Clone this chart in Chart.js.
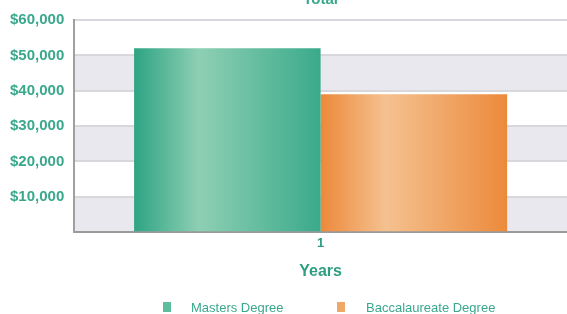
<!DOCTYPE html>
<html>
<head>
<meta charset="utf-8">
<script src="https://cdn.jsdelivr.net/npm/chart.js@4/dist/chart.umd.min.js"></script>
<style>
  html, body { margin:0; padding:0; background:#fff; }
  #wrap { position:relative; width:567px; height:314px; }
  #legend { position:absolute; left:0; top:300px; width:567px; height:14px; font:13px "Liberation Sans", Arial, sans-serif; color:#3aa88c; }
  #legend span.item { position:absolute; top:0; white-space:nowrap; }
  #legend i { position:absolute; top:2px; width:8px; height:10px; }
</style>
</head>
<body>
<div id="wrap">
  <canvas id="chart" width="567" height="314"></canvas>
  <div id="legend"></div>
</div>
<script>
// data
const categories = ['1'];
const seriesNames = ['Masters Degree', 'Baccalaureate Degree'];
const masters = [52000];
const baccalaureate = [39000];
const yTicks = [0, 10000, 20000, 30000, 40000, 50000, 60000];

const teal = '#3aa88c';
const gradStops = [
  ['#2ea483', '#8ecfb4', '#3aaa8a'],
  ['#ec893a', '#f5c190', '#ec8a3b']
];
const legendFill = ['#5dbd9c', '#f0a868'];

function money(v){ return '$' + v.toLocaleString('en-US'); }

// alternating bands behind the grid
const bands = {
  id:'bands',
  beforeDraw(chart){
    const {ctx, chartArea:a, scales:{y}} = chart;
    ctx.save();
    for(let i=0;i<yTicks.length-1;i+=2){
      const y0 = y.getPixelForValue(yTicks[i]);
      const y1 = y.getPixelForValue(yTicks[i+1]);
      ctx.fillStyle = '#e9e8ef';
      ctx.fillRect(a.left, y1, a.right-a.left, y0-y1);
    }
    ctx.restore();
  }
};

// horizontal shine on each bar
const shine = {
  id:'shine',
  beforeDatasetsDraw(chart){
    const ctx = chart.ctx;
    chart.data.datasets.forEach((ds, di)=>{
      chart.getDatasetMeta(di).data.forEach(el=>{
        const l = el.x - el.width/2, r = el.x + el.width/2;
        const g = ctx.createLinearGradient(l, 0, r, 0);
        const s = gradStops[di];
        g.addColorStop(0, s[0]);
        g.addColorStop(0.35, s[1]);
        g.addColorStop(1, s[2]);
        el.options.backgroundColor = g;
      });
    });
  }
};

// title sits half off the top edge
const topTitle = {
  id:'topTitle',
  afterDraw(chart){
    const {ctx, chartArea:a} = chart;
    ctx.save();
    ctx.font = 'bold 15px "Liberation Sans", Arial, sans-serif';
    ctx.fillStyle = teal;
    ctx.textAlign = 'center';
    ctx.textBaseline = 'middle';
    ctx.fillText('Total', (a.left+a.right)/2, 0);
    ctx.restore();
  }
};

new Chart(document.getElementById('chart'), {
  type:'bar',
  data:{
    labels: categories,
    datasets:[
      { label: seriesNames[0], data: masters, backgroundColor: gradStops[0][0], borderWidth:0 },
      { label: seriesNames[1], data: baccalaureate, backgroundColor: gradStops[1][0], borderWidth:0 }
    ]
  },
  options:{
    responsive:false,
    animation:false,
    layout:{ padding:{ top:20, right:0, bottom:33, left:0 } },
    datasets:{ bar:{ barPercentage:1, categoryPercentage:0.757 } },
    plugins:{ legend:{ display:false }, title:{ display:false }, tooltip:{ enabled:false } },
    scales:{
      x:{
        grid:{ display:false, drawTicks:false },
        border:{ color:'#9a9a9a', width:2 },
        ticks:{ padding:3, color:'#2e9e80', font:{ family:'"Liberation Sans", Arial', size:13, weight:'bold' } },
        title:{ display:true, text:'Years', color:'#2e9e80', padding:{ top:8, bottom:0 },
                font:{ family:'"Liberation Sans", Arial', size:16, weight:'bold' } }
      },
      y:{
        min:0, max:60000,
        afterBuildTicks(axis){ axis.ticks = yTicks.map(v=>({value:v})); },
        grid:{ color:'#d8d8dc', lineWidth:2, drawTicks:false },
        border:{ color:'#a0a0a0', width:2 },
        ticks:{
          padding:10, color:teal,
          font:{ family:'"Liberation Sans", Arial', size:15, weight:'bold' },
          callback:v=> v===0 ? '' : money(v)
        }
      }
    }
  },
  plugins:[bands, shine, topTitle]
});

// legend
const leg = document.getElementById('legend');
const boxX = [163, 337];
const textX = [191, 366];
seriesNames.forEach((n,i)=>{
  const b = document.createElement('i');
  b.style.left = boxX[i]+'px';
  b.style.background = legendFill[i];
  leg.appendChild(b);
  const t = document.createElement('span');
  t.className = 'item';
  t.style.left = textX[i]+'px';
  t.textContent = n;
  leg.appendChild(t);
});
</script>
</body>
</html>
